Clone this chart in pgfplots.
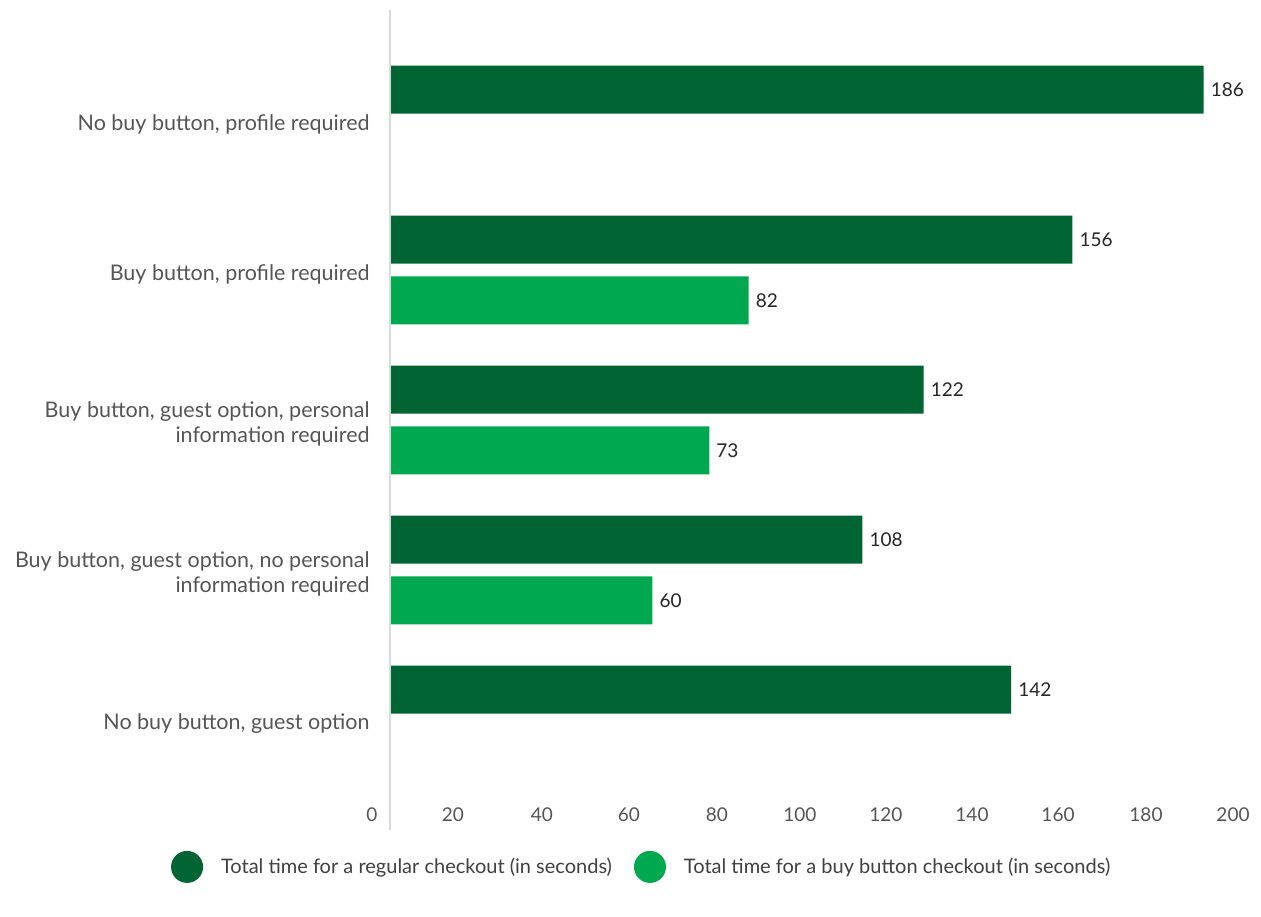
\documentclass[border=0pt]{standalone}
\usepackage{pgfplots}
\pgfplotsset{compat=1.18}
\usepackage{fontspec}
\setmainfont{Lato}
\definecolor{dkg}{RGB}{0,101,50}
\definecolor{ltg}{RGB}{0,168,80}
\definecolor{txt}{RGB}{85,85,85}
\definecolor{axl}{RGB}{218,218,218}
\begin{document}
\begin{tikzpicture}
\path[use as bounding box] (0,0) rectangle (630.5pt,458pt);
\begin{axis}[
  at={(185.8pt,43pt)}, anchor=south west,
  scale only axis, width=435.75pt, height=410pt,
  xmin=-4.2, xmax=195, ymin=0.2667, ymax=5.7333, y dir=reverse,
  xbar, bar width=0.32,
  /pgf/number format/assume math mode=true,
  axis line style={draw=none},
  tick style={draw=none},
  clip=false,
  xtick={-4.11,14.40,34.74,54.63,74.74,93.71,113.37,133.03,152.69,172.8,192.69},
  xticklabels={0,20,40,60,80,100,120,140,160,180,200},
  xticklabel style={anchor=center, yshift=7.5pt, font=\fontsize{9.5}{11}\selectfont, text=txt},
  ytick={1,2,3,4,5},
  yticklabels={{No buy button, profile required},{Buy button, profile required},{Buy button, guest option, personal\\information required},{Buy button, guest option, no personal\\information required},{No buy button, guest option}},
  yticklabel style={align=right, anchor=east, xshift=6.8pt, yshift=-2pt, font=\fontsize{10.75}{12.5}\selectfont, text=txt},
  nodes near coords,
  nodes near coords style={anchor=west, font=\fontsize{9.5}{11}\selectfont, text=black!85},
  legend style={at={(0.311,-0.045)}, anchor=center, draw=none, fill=none,
    legend columns=2, font=\fontsize{10}{12}\selectfont, text=black!75,
    /tikz/every even column/.append style={column sep=9pt}},
  legend image code/.code={\fill (0pt,0pt) circle (8pt); \path[draw=none, fill=none] (0pt,0pt) (15pt,0pt);},
]
\addplot[draw=none, fill=dkg, bar shift=-0.203] coordinates {(186,1) (156,2) (122,3) (108,4) (142,5)};
\addlegendentry{Total time for a regular checkout (in seconds)}
\addplot[draw=none, fill=ltg, bar shift=0.203] coordinates {(82,2) (73,3) (60,4)};
\addlegendentry{Total time for a buy button checkout (in seconds)}
\draw[axl, line width=0.8pt] (axis cs:0,0.2667) -- (axis cs:0,5.7333);
\end{axis}
\end{tikzpicture}
\end{document}
